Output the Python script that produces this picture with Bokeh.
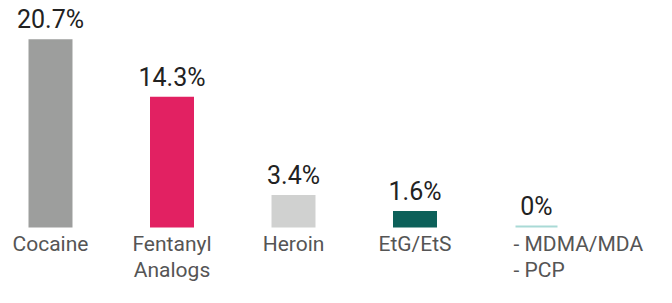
from bokeh.plotting import figure
from bokeh.models import ColumnDataSource, Range1d
from bokeh.core.properties import value
from bokeh.embed import file_html
from bokeh.resources import INLINE

categories = ["Cocaine", "Fentanyl\nAnalogs", "Heroin", "EtG/EtS", "- MDMA/MDA\n- PCP"]
values = [20.7, 14.3, 3.4, 1.6, 0.0]
value_labels = ["20.7%", "14.3%", "3.4%", "1.6%", "0%"]
colors = ["#9d9e9d", "#e22162", "#d0d1d0", "#0c6059", "#a9dad6"]

W, H = 656, 287
px_per_cat = 121.5
first_center = 50
base_px = 226
k = 9.0  # px per percent

xs = list(range(len(categories)))
aligns = ["center"] * (len(categories) - 1) + ["left"]
xoffs = [0] * (len(categories) - 1) + [-23]

src = ColumnDataSource(dict(x=xs, top=values, color=colors, vlab=value_labels,
                            cat=categories, align=aligns, xoff=xoffs,
                            zero=[0] * len(values)))

p = figure(width=W, height=H, output_backend="svg", toolbar_location=None,
           x_range=Range1d(-first_center / px_per_cat, (W - first_center) / px_per_cat),
           y_range=Range1d(-(H - base_px) / k, base_px / k),
           min_border=0)
p.axis.visible = False
p.grid.visible = False
p.outline_line_color = None
p.background_fill_color = "white"
p.border_fill_color = "white"

p.vbar(x="x", top="top", bottom=0, width=42 / px_per_cat, source=src,
       fill_color="color", line_color="color", line_width=2, line_join="miter")

p.text(x="x", y="top", text="vlab", source=src, text_align="center",
       text_baseline="bottom", y_offset=-6,
       text_font=value("Roboto"), text_font_size="25px", text_color="#222222")

p.text(x="x", y="zero", text="cat", source=src, text_align="align",
       x_offset="xoff", text_baseline="top", y_offset=5, text_line_height=1.1,
       text_font=value("Roboto"), text_font_size="21px", text_color="#555555")

open("out.html", "w").write(file_html(p, INLINE))
